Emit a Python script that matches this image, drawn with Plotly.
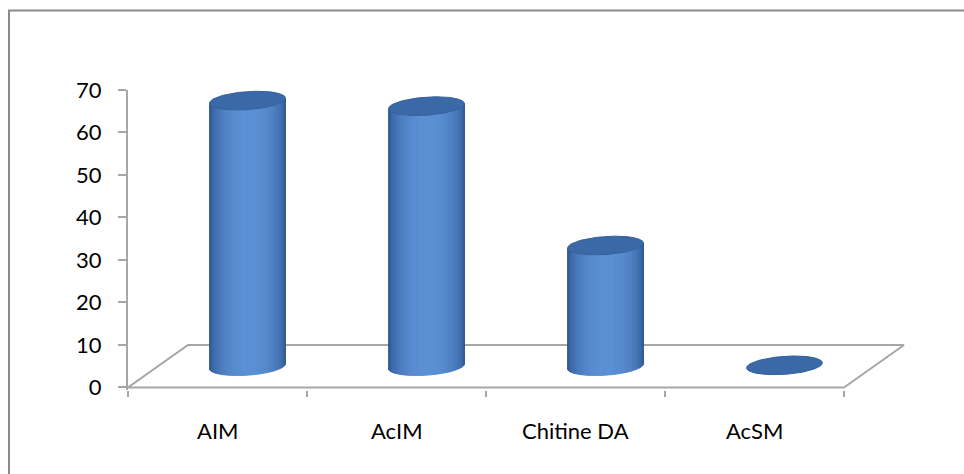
import numpy as np
import plotly.graph_objects as go

categories = ["AIM", "AcIM", "Chitine DA", "AcSM"]
values = [62.5, 61.2, 28.4, 0.2]
y_tick_vals = [0, 10, 20, 30, 40, 50, 60, 70]

# 3D look parameters (in axis units)
DEPTH_X = 0.335   # floor depth along x
DEPTH_Y = 10.0    # floor depth along y
RX = 0.212        # cylinder radius (x units)
RY = 2.12         # ellipse vertical semi-axis (y units)
SHEAR = 0.59      # ellipse tilt

DARK = np.array([44, 84, 142])
LIGHT = np.array([92, 145, 214])
TOP = "#3b69a8"
GRAY = "#a6a6a6"
FONT = "Lato"

fig = go.Figure()

def add_poly(xs, ys, color, line_w=0):
    fig.add_trace(go.Scatter(
        x=list(xs), y=list(ys), mode="lines", fill="toself",
        fillcolor=color, line=dict(color=color, width=line_w),
        hoverinfo="skip", showlegend=False))

def rgb(c):
    c = np.clip(c, 0, 255).astype(int)
    return f"rgb({c[0]},{c[1]},{c[2]})"

n = len(categories)
# floor
fig.add_trace(go.Scatter(
    x=[0, n, n + DEPTH_X, DEPTH_X, 0],
    y=[0, 0, DEPTH_Y, DEPTH_Y, 0],
    mode="lines", line=dict(color=GRAY, width=2),
    hoverinfo="skip", showlegend=False))

N_STRIP = 36
for i, v in enumerate(values):
    cx = i + 0.5 + DEPTH_X / 2
    base = DEPTH_Y / 2
    top = base + v

    def ell(th, cy):
        return cx + RX * np.cos(th), cy + RY * np.sin(th) + SHEAR * np.cos(th)

    th_front = np.linspace(np.pi, 2 * np.pi, 61)
    if v > 1:
        # body silhouette
        bx, by = ell(th_front, base)
        tx, ty = ell(th_front[::-1], top)
        add_poly(np.concatenate([bx, tx]), np.concatenate([by, ty]), rgb((DARK + LIGHT) / 2))
        # shaded strips
        edges = np.linspace(np.pi, 2 * np.pi, N_STRIP + 1)
        for k in range(N_STRIP):
            a0, a1 = edges[k], edges[k + 1]
            am = (a0 + a1) / 2
            t = (am - np.pi) / np.pi
            b = np.sin(np.pi * np.clip((t - 0.02) / 0.98, 0, 1)) ** 1.1
            col = rgb(DARK + (LIGHT - DARK) * b)
            ths = np.linspace(a0, a1, 4)
            x0, y0 = ell(ths, base)
            x1, y1 = ell(ths[::-1], top)
            add_poly(np.concatenate([x0, x1]), np.concatenate([y0, y1]), col, 0.8)
    # top ellipse
    th = np.linspace(0, 2 * np.pi, 121)
    ex, ey = ell(th, top)
    fig.add_trace(go.Scatter(
        x=ex, y=ey, mode="lines", fill="toself", fillcolor=TOP,
        line=dict(color="#34609b", width=1),
        hoverinfo="skip", showlegend=False))

# category labels
for i, c in enumerate(categories):
    fig.add_annotation(x=i + 0.5, y=0, xref="x", yref="y", text=c,
                       showarrow=False, yanchor="top", yshift=-28,
                       font=dict(family=FONT, size=22, color="#000000"))

# outer chart border
fig.add_shape(type="rect", xref="paper", yref="paper",
              x0=-0.1514, x1=1.08, y0=-0.35, y1=1.265,
              line=dict(color="#8a8a8a", width=2), fillcolor="rgba(0,0,0,0)")

fig.update_layout(
    width=964, height=474,
    margin=dict(l=128, r=50, t=90, b=84),
    paper_bgcolor="white", plot_bgcolor="white",
    font=dict(family=FONT, size=22, color="#000000"),
    xaxis=dict(range=[0, 4.391], tickvals=list(range(n + 1)),
               ticktext=[""] * (n + 1), ticks="outside", ticklen=6,
               tickcolor=GRAY, tickwidth=2, showgrid=False, zeroline=False,
               showline=False, fixedrange=True),
    yaxis=dict(range=[-0.6, 70], tickvals=y_tick_vals, ticks="outside",
               ticklen=8, tickcolor=GRAY, tickwidth=2, showgrid=False,
               zeroline=False, showline=True, linecolor=GRAY, linewidth=2,
               ticklabelstandoff=12, fixedrange=True),
)

fig.write_html("out.html")
